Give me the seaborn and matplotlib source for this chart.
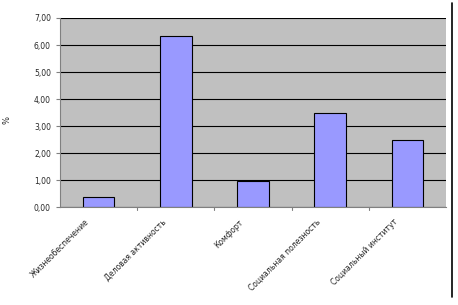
import matplotlib
matplotlib.use("Agg")
import matplotlib.pyplot as plt
import matplotlib.transforms as mtransforms
import seaborn as sns
import pandas as pd
from matplotlib.ticker import FuncFormatter, MultipleLocator
from matplotlib.lines import Line2D

categories = ["Жизнеобеспечение", "Деловая активность", "Комфорт",
              "Социальная полезность", "Социальный институт"]
values = [0.38, 6.32, 0.97, 3.50, 2.47]

df = pd.DataFrame({"cat": categories, "val": values})

sns.set_style("white")
plt.rcParams['font.family'] = ['DejaVu Sans']

fig = plt.figure(figsize=(4.58, 3.05), dpi=100)
ax = fig.add_axes([0.131, 0.321, 0.843, 0.620])
ax.set_facecolor("#C0C0C0")

sns.barplot(data=df, x="cat", y="val", ax=ax, color="#9999FF",
            edgecolor="black", linewidth=0.8, width=0.41, saturation=1)

ax.set_ylim(0, 7)
ax.set_xlim(-0.5, 4.5)
ax.yaxis.set_major_locator(MultipleLocator(1))
ax.yaxis.set_major_formatter(FuncFormatter(lambda v, p: f"{v:.2f}".replace(".", ",")))
ax.grid(axis="y", color="black", linewidth=0.8)
ax.set_axisbelow(True)

for s in ["top", "right"]:
    ax.spines[s].set_visible(False)
ax.spines["left"].set_color("#808080")
ax.spines["bottom"].set_color("#808080")

ax.set_xticks([0, 1, 2, 3, 4])
ax.set_xticklabels(categories, rotation=45, ha="right", rotation_mode="anchor", fontsize=5.5)
ax.tick_params(axis="x", length=0, pad=6)
offset = mtransforms.ScaledTranslation(-14 / 100, -2 / 100, fig.dpi_scale_trans)
for lbl in ax.get_xticklabels():
    lbl.set_transform(lbl.get_transform() + offset)
ax.tick_params(axis="y", labelsize=5.5, length=3, color="#808080", direction="out", left=True)
# category boundary ticks
for b in [0.5, 1.5, 2.5, 3.5]:
    ax.plot([b, b], [0, -0.1], color="#808080", lw=0.8, clip_on=False)

ax.set_xlabel("")
ax.set_ylabel("%", fontsize=6)
ax.yaxis.set_label_coords(-0.125, 0.46)

fig.add_artist(Line2D([0.987, 0.987], [1 - 3/305, 1 - 297/305], color="black", lw=1.2,
                      transform=fig.transFigure))

fig.savefig("out.png", dpi=100)
